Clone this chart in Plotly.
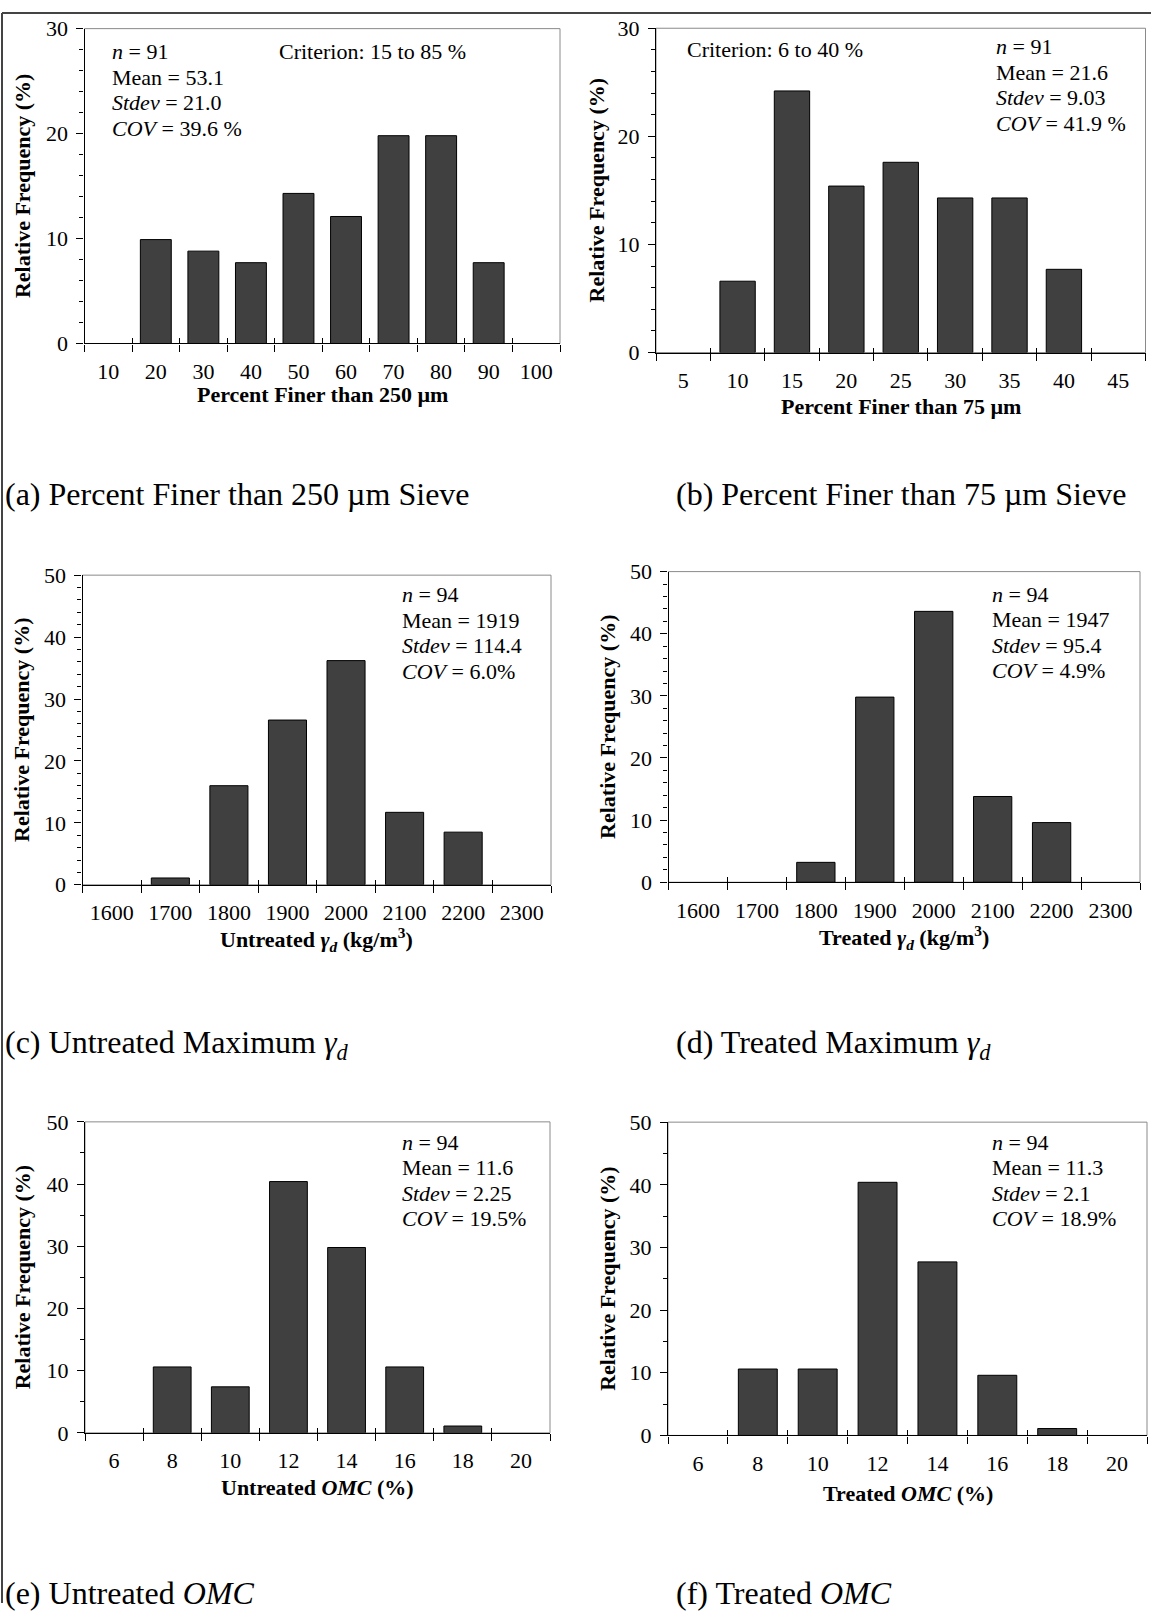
import plotly.graph_objects as go

# ---------------- data ----------------
a_labels = ["10", "20", "30", "40", "50", "60", "70", "80", "90", "100"]
a_values = [0, 9.9, 8.8, 7.7, 14.3, 12.1, 19.8, 19.8, 7.7, 0]

b_labels = ["5", "10", "15", "20", "25", "30", "35", "40", "45"]
b_values = [0, 6.6, 24.2, 15.4, 17.6, 14.3, 14.3, 7.7, 0]

c_labels = ["1600", "1700", "1800", "1900", "2000", "2100", "2200", "2300"]
c_values = [0, 1.1, 16.0, 26.6, 36.2, 11.7, 8.5, 0]

d_labels = ["1600", "1700", "1800", "1900", "2000", "2100", "2200", "2300"]
d_values = [0, 0, 3.2, 29.8, 43.6, 13.8, 9.6, 0]

e_labels = ["6", "8", "10", "12", "14", "16", "18", "20"]
e_values = [0, 10.6, 7.4, 40.4, 29.8, 10.6, 1.1, 0]

f_labels = ["6", "8", "10", "12", "14", "16", "18", "20"]
f_values = [0, 10.6, 10.6, 40.4, 27.7, 9.6, 1.1, 0]

a_stats = ["<i>n</i> = 91", "Mean = 53.1", "<i>Stdev</i> = 21.0", "<i>COV</i> = 39.6 %"]
b_stats = ["<i>n</i> = 91", "Mean = 21.6", "<i>Stdev</i> = 9.03", "<i>COV</i> = 41.9 %"]
c_stats = ["<i>n</i> = 94", "Mean = 1919", "<i>Stdev</i> = 114.4", "<i>COV</i> = 6.0%"]
d_stats = ["<i>n</i> = 94", "Mean = 1947", "<i>Stdev</i> = 95.4", "<i>COV</i> = 4.9%"]
e_stats = ["<i>n</i> = 94", "Mean = 11.6", "<i>Stdev</i> = 2.25", "<i>COV</i> = 19.5%"]
f_stats = ["<i>n</i> = 94", "Mean = 11.3", "<i>Stdev</i> = 2.1", "<i>COV</i> = 18.9%"]

a_criterion = "Criterion: 15 to 85 %"
b_criterion = "Criterion: 6 to 40 %"

x_titles = [
    "<b>Percent Finer than 250 µm</b>",
    "<b>Percent Finer than 75 µm</b>",
    "<b>Untreated <i>γ<sub>d</sub></i> (kg/m<sup>3</sup>)</b>",
    "<b>Treated <i>γ<sub>d</sub></i> (kg/m<sup>3</sup>)</b>",
    "<b>Untreated <i>OMC</i> (%)</b>",
    "<b>Treated <i>OMC</i> (%)</b>",
]
captions = [
    "(a) Percent Finer than 250 µm Sieve",
    "(b) Percent Finer than 75 µm Sieve",
    "(c) Untreated Maximum <i>γ<sub>d</sub></i>",
    "(d) Treated Maximum <i>γ<sub>d</sub></i>",
    "(e) Untreated <i>OMC</i>",
    "(f) Treated <i>OMC</i>",
]
y_title = "<b>Relative Frequency (%)</b>"

# ---------------- layout geometry (pixels) ----------------
W, H = 1151, 1616
FONT = "Liberation Serif, Times New Roman, serif"
FS = 22

panels = [
    dict(labels=a_labels, values=a_values, stats=a_stats, ymax=30, ydt=10, ymin=2,
         box=(84.5, 560, 16.9, 336.7), stats_xy=(110, 40.5), crit=a_criterion, crit_xy=(277, 40.5),
         xt_y=389, yt_x=22, cap_xy=(3, 490)),
    dict(labels=b_labels, values=b_values, stats=b_stats, ymax=30, ydt=10, ymin=2,
         box=(656, 1145.5, 16.5, 345.9), stats_xy=(994, 35.5), crit=b_criterion, crit_xy=(684.5, 38.5),
         xt_y=401, yt_x=596, cap_xy=(674, 490)),
    dict(labels=c_labels, values=c_values, stats=c_stats, ymax=50, ydt=10, ymin=2,
         box=(82.5, 551, 572.0, 886.5), stats_xy=(400, 592.0), crit=None, crit_xy=None,
         xt_y=942.3, yt_x=22, cap_xy=(3, 1049)),
    dict(labels=d_labels, values=d_values, stats=d_stats, ymax=50, ydt=10, ymin=2,
         box=(668.5, 1140, 568.4, 883.9), stats_xy=(990, 591.3), crit=None, crit_xy=None,
         xt_y=940.5, yt_x=608, cap_xy=(674, 1049)),
    dict(labels=e_labels, values=e_values, stats=e_stats, ymax=50, ydt=10, ymin=5,
         box=(85, 550, 1127.3, 1443.2), stats_xy=(400, 1148.1), crit=None, crit_xy=None,
         xt_y=1498.2, yt_x=22, cap_xy=(3, 1606)),
    dict(labels=f_labels, values=f_values, stats=f_stats, ymax=50, ydt=10, ymin=5,
         box=(668, 1147, 1127.6, 1445.8), stats_xy=(990, 1148.1), crit=None, crit_xy=None,
         xt_y=1505.2, yt_x=608, cap_xy=(674, 1606)),
]
LINE_SP = 25.9


def px(x):
    return min(max(x / W, 0.0), 1.0)


def py(y):
    return min(max(1 - y / H, 0.0), 1.0)


fig = go.Figure()
layout = dict(
    width=W, height=H, margin=dict(l=0, r=0, t=0, b=0),
    paper_bgcolor="white", plot_bgcolor="white", showlegend=False,
    font=dict(family=FONT, size=FS, color="black"),
    bargap=0.35,
)
annotations = []
shapes = []

for i, p in enumerate(panels, start=1):
    n = len(p["labels"])
    centers = list(range(n))
    bounds = [k - 0.5 for k in range(n + 1)]
    xl, xr, yt, yb = p["box"]
    xs = "" if i == 1 else str(i)
    ov = str(i + 6)
    outline_w = [1 if v > 0 else 0 for v in p["values"]]

    fig.add_trace(go.Bar(
        x=centers, y=p["values"], xaxis="x" + xs, yaxis="y" + xs, width=0.65,
        marker=dict(color="#404040", line=dict(color="black", width=outline_w)),
        hoverinfo="skip",
    ))
    fig.add_trace(go.Scatter(x=[], y=[], xaxis="x" + ov, yaxis="y" + xs, hoverinfo="skip"))

    layout["xaxis" + xs] = dict(
        domain=[px(xl), px(xr)], anchor="y" + xs, range=[-0.5, n - 0.5],
        tickmode="array", tickvals=centers, ticktext=p["labels"], ticks="",
        showline=True, linecolor="black", linewidth=1.3, showgrid=False, zeroline=False,
        minor=dict(tickmode="array", tickvals=bounds, ticks="outside", ticklen=7,
                   tickcolor="black", tickwidth=1),
        tickfont=dict(family=FONT, size=FS), ticklabelstandoff=8, fixedrange=True,
    )
    layout["xaxis" + ov] = dict(
        overlaying="x" + xs, anchor="y" + xs, range=[-0.5, n - 0.5],
        tickmode="array", tickvals=bounds, ticks="inside", ticklen=5,
        tickcolor="black", tickwidth=1, showticklabels=False,
        showline=False, showgrid=False, zeroline=False, fixedrange=True,
    )
    layout["yaxis" + xs] = dict(
        domain=[py(yb), py(yt)], anchor="x" + xs, range=[0, p["ymax"]],
        tickmode="linear", tick0=0, dtick=p["ydt"], ticks="outside", ticklen=7,
        tickcolor="black", showline=True, linecolor="black", linewidth=1.3,
        showgrid=False, zeroline=False,
        minor=dict(dtick=p["ymin"], ticks="outside", ticklen=4, tickcolor="black"),
        tickfont=dict(family=FONT, size=FS), ticklabelstandoff=4, fixedrange=True,
    )
    shapes.append(dict(type="rect", xref="x" + xs + " domain", yref="y" + xs + " domain",
                       x0=0, x1=1, y0=0, y1=1, line=dict(color="#8a8a8a", width=1), layer="below"))

    sx, sy = p["stats_xy"]
    for k, line in enumerate(p["stats"]):
        annotations.append(dict(xref="paper", yref="paper", x=px(sx), y=py(sy + k * LINE_SP),
                                text=line, showarrow=False, xanchor="left", yanchor="middle",
                                font=dict(family=FONT, size=FS)))
    if p["crit"]:
        cx, cy = p["crit_xy"]
        annotations.append(dict(xref="paper", yref="paper", x=px(cx), y=py(cy), text=p["crit"],
                                showarrow=False, xanchor="left", yanchor="middle",
                                font=dict(family=FONT, size=FS)))
    # axis titles
    annotations.append(dict(xref="paper", yref="paper", x=px((xl + xr) / 2), y=py(p["xt_y"]),
                            text=x_titles[i - 1], showarrow=False, xanchor="center", yanchor="middle",
                            font=dict(family=FONT, size=FS)))
    annotations.append(dict(xref="paper", yref="paper", x=px(p["yt_x"]), y=py((yt + yb) / 2),
                            text=y_title, showarrow=False, xanchor="center", yanchor="middle",
                            textangle=-90, font=dict(family=FONT, size=FS)))
    # caption
    cx, cy = p["cap_xy"]
    annotations.append(dict(xref="paper", yref="paper", x=px(cx), y=py(cy), text=captions[i - 1],
                            showarrow=False, xanchor="left", yanchor="middle",
                            font=dict(family=FONT, size=32)))

# outer figure border (left and top)
shapes.append(dict(type="line", xref="paper", yref="paper", x0=px(2), x1=px(2), y0=0, y1=py(1),
                   line=dict(color="#444444", width=2)))
shapes.append(dict(type="line", xref="paper", yref="paper", x0=px(2), x1=1, y0=py(1), y1=py(1),
                   line=dict(color="#444444", width=2)))

layout["annotations"] = annotations
layout["shapes"] = shapes
fig.update_layout(**layout)
fig.write_html("out.html")
